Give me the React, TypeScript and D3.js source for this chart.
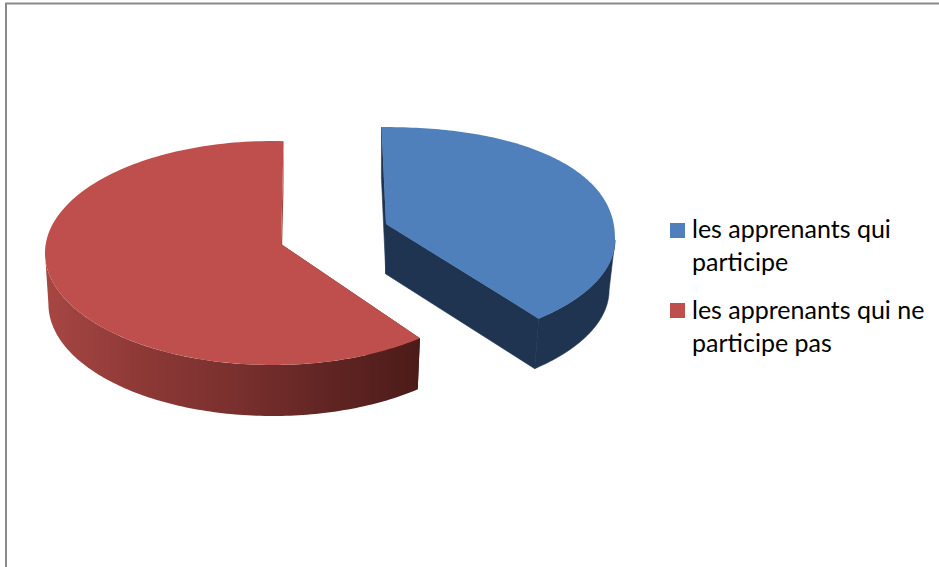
import React from "react";
import * as d3 from "d3";

const categories = ["les apprenants qui participe", "les apprenants qui ne participe pas"];
const shares = [38, 62];
const topColors = ["#4f80bc", "#be4f4c"];
const sideColors = ["#1f3450", "#a24441"];
const legendLines = [["les apprenants qui", "participe"], ["les apprenants qui ne", "participe pas"]];

const WIDTH = 939;
const HEIGHT = 567;

// Projection of each exploded slice (perspective view of the 3-D pie)
const views = [
  { cx: 378, cy: 240, rx: 237, ryTop: 113, ryBottom: 107, nTop: 2.25, ax: 386, ay: 224, rot: 0.5, depth: 50, shrink: 0.975 },
  { cx: 272.5, cy: 253, rx: 227.5, ryTop: 112, ryBottom: 112, nTop: 2, ax: 281, ay: 244, rot: 2.8, depth: 51, shrink: 0.985 },
];

type View = (typeof views)[number];
type P = [number, number];

const rim = (v: View, a: number): P => {
  const s = Math.sin(a);
  const c = Math.cos(a);
  const up = c >= 0;
  const ry = up ? v.ryTop : v.ryBottom;
  const e = 2 / (up ? v.nTop : 2);
  return [
    v.cx + v.rx * Math.sign(s) * Math.pow(Math.abs(s), e),
    v.cy - ry * Math.sign(c) * Math.pow(Math.abs(c), e),
  ];
};
const lower = (v: View, p: P): P => [v.cx + (p[0] - v.cx) * v.shrink, p[1] + v.depth];

const line = d3.line<P>().curve(d3.curveLinear);
const closed = (pts: P[]) => line(pts) + "Z";

const arcs = d3.pie<number>().sort(null).value((d) => d)(shares);

const gradientStops: [number, string][] = [
  [0, "#a64643"],
  [0.25, "#8d3936"],
  [0.5, "#7a302e"],
  [0.75, "#612523"],
  [1, "#4c1b19"],
];

export default function App() {
  const slices = arcs.map((arc, i) => {
    const v = views[i];
    const rad = (v.rot * Math.PI) / 180;
    const angle = d3.scaleLinear().domain([0, 1]).range([arc.startAngle + rad, arc.endAngle + rad]);
    const outer: P[] = d3.range(0, 1.0001, 1 / 160).map((t) => rim(v, angle(t)));
    // Only the front half of the rim sweeps a visible wall
    const frontFrom = Math.max(angle(0), Math.PI / 2);
    const frontTo = Math.min(angle(1), (3 * Math.PI) / 2);
    const front: P[] = d3.range(0, 1.0001, 1 / 120).map((t) => rim(v, frontFrom + (frontTo - frontFrom) * t));
    const apex: P = [v.ax, v.ay];
    const first = outer[0];
    const last = outer[outer.length - 1];
    return {
      i,
      top: closed([apex, ...outer]),
      wallA: closed([apex, first, lower(v, first), lower(v, apex)]),
      wallB: closed([apex, last, lower(v, last), lower(v, apex)]),
      wallOuter: closed([...front, ...front.map((p) => lower(v, p)).reverse()]),
    };
  });

  return (
    <svg
      width={WIDTH}
      height={HEIGHT}
      viewBox={`0 0 ${WIDTH} ${HEIGHT}`}
      style={{ position: "fixed", left: 0, top: 0, background: "#fff" }}
    >
      <defs>
        <linearGradient id="redSide" gradientUnits="userSpaceOnUse" x1={48} x2={420} y1={0} y2={0}>
          {gradientStops.map(([o, c]) => (
            <stop key={o} offset={o} stopColor={c} />
          ))}
        </linearGradient>
      </defs>
      <rect x={6} y={3.5} width={WIDTH + 20} height={HEIGHT + 20} fill="#fff" stroke="#8a8a8a" strokeWidth={2} />
      {slices.map((s) => (
        <g key={categories[s.i]}>
          <path d={s.wallA} fill={s.i === 0 ? sideColors[0] : "#4c1b19"} stroke={s.i === 0 ? sideColors[0] : "none"} strokeWidth={0.6} />
          <path d={s.wallB} fill={sideColors[s.i]} stroke={s.i === 0 ? sideColors[0] : "none"} strokeWidth={0.6} />
          <path d={s.wallOuter} fill={s.i === 0 ? sideColors[0] : "url(#redSide)"} stroke={s.i === 0 ? sideColors[0] : "none"} strokeWidth={0.6} />
          <path d={s.top} fill={topColors[s.i]} />
        </g>
      ))}
      {categories.map((c, i) => (
        <g key={c}>
          <rect x={670} y={223 + i * 80} width={15} height={15} fill={topColors[i]} />
          {legendLines[i].map((t, j) => (
            <text
              key={t}
              x={692}
              y={238 + i * 81 + j * 33}
              fontFamily="Lato, Carlito, sans-serif"
              fontSize={25}
              fill="#000"
            >
              {t}
            </text>
          ))}
        </g>
      ))}
    </svg>
  );
}
